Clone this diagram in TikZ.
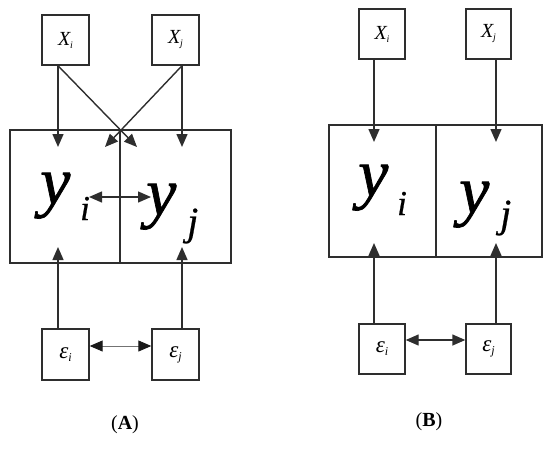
\documentclass[tikz,border=0pt]{standalone}
\usepackage{fontspec}
\setmainfont{Liberation Serif}
\usetikzlibrary{arrows.meta}
\definecolor{linec}{HTML}{2E2E2E}
\newcommand\smlab[2]{{\fontsize{20}{20}\selectfont\itshape #1\raisebox{-3pt}{\fontsize{10}{10}\selectfont #2}}}
\newcommand\eplab[2]{{\fontsize{23}{23}\selectfont\itshape #1\raisebox{-3pt}{\fontsize{12}{12}\selectfont #2}}}
\begin{document}
\begin{tikzpicture}[x=1pt,y=-1pt,
  box/.style={draw=linec, line width=1.4pt, inner sep=0pt, minimum width=47pt, minimum height=50pt},
  big/.style={draw=linec, line width=1.4pt, inner sep=0pt, minimum height=133pt},
  arr/.style={-{Triangle[length=13pt,width=11pt]}, line width=1.4pt, draw=linec},
  darr/.style={{Triangle[length=13pt,width=11pt]}-{Triangle[length=13pt,width=11pt]}, line width=1.4pt, draw=linec},
  thin darr/.style={{Triangle[length=13pt,width=11pt,color=black!90]}-{Triangle[length=13pt,width=11pt,color=black!90]}, line width=1pt, draw=black!55},
  bigy/.style={anchor=base west, inner sep=0pt, font=\fontsize{68}{68}\selectfont\itshape\addfontfeature{FakeBold=1}},
  subi/.style={anchor=base west, inner sep=0pt, font=\fontsize{35}{35}\selectfont\itshape\addfontfeature{FakeBold=0.6}},
  subj/.style={anchor=base west, inner sep=0pt, font=\fontsize{40}{40}\selectfont\itshape\addfontfeature{FakeBold=0.6}},
  captext/.style={inner sep=0pt, font=\fontsize{20}{20}\selectfont}
]
\useasboundingbox (0,0) rectangle (550,451);
% ---------------- Panel A ----------------
\node[box] (Axi) at (65.5,40) {\smlab{X}{i}};
\node[box] (Axj) at (175.5,40) {\smlab{X}{j}};
\node[big, minimum width=110pt] (Ayi) at (65,196.5) {};
\node[big, minimum width=111pt] (Ayj) at (175.5,196.5) {};
\node[box, minimum height=51pt] (Aei) at (65.5,354.5) {\eplab{ε}{i}};
\node[box, minimum height=51pt] (Aej) at (175.5,354.5) {\eplab{ε}{j}};
\node[bigy] (Ayit) at (40,204) {y};
\node[subi] (Ayis) at (80,220) {i};
\node[bigy] (Ayjt) at (146,215) {y};
\node[subj] (Ayjs) at (187,235) {j};
\coordinate (Ati) at (58,147);
\coordinate (Atj) at (182,147);
\coordinate (Acr1) at (137,147);
\coordinate (Acr2) at (105,147);
\coordinate (Abi) at (58,247);
\coordinate (Abj) at (182,247);
\coordinate (Ayl) at (89,197);
\coordinate (Ayr) at (151,197);
\draw[arr] ([xshift=-7.5pt]Axi.south) -- (Ati);
\draw[arr] ([xshift=6.5pt]Axj.south) -- (Atj);
\draw[arr] ([xshift=-7.5pt]Axi.south) -- (Acr1);
\draw[arr] ([xshift=6.5pt]Axj.south) -- (Acr2);
\draw[arr] ([xshift=-7.5pt]Aei.north) -- (Abi);
\draw[arr] ([xshift=6.5pt]Aej.north) -- (Abj);
\draw[darr] (Ayl) -- (Ayr);
\draw[thin darr] ([yshift=8.5pt]Aei.east) -- ([yshift=8.5pt]Aej.west);
\node[captext] (capA) at (125,425) {(\textbf{A})};
% ---------------- Panel B ----------------
\node[box, minimum width=46pt] (Bxi) at (382,34) {\smlab{X}{i}};
\node[box, minimum width=45pt] (Bxj) at (488.5,34) {\smlab{X}{j}};
\node[big, minimum width=107pt, minimum height=132pt] (Byi) at (382.5,191) {};
\node[big, minimum width=106pt, minimum height=132pt] (Byj) at (489,191) {};
\node[box, minimum width=46pt] (Bei) at (382,349) {\eplab{ε}{i}};
\node[box, minimum width=45pt] (Bej) at (488.5,349) {\eplab{ε}{j}};
\node[bigy] (Byit) at (358,196) {y};
\node[subi] (Byis) at (397,215) {i};
\node[bigy] (Byjt) at (459,213) {y};
\node[subj] (Byjs) at (500,227) {j};
\coordinate (Bti) at (374,142);
\coordinate (Btj) at (496,142);
\coordinate (Bbi) at (374,243);
\coordinate (Bbj) at (496,243);
\draw[arr] ([xshift=-8pt]Bxi.south) -- (Bti);
\draw[arr] ([xshift=7.5pt]Bxj.south) -- (Btj);
\draw[arr] ([xshift=-8pt]Bei.north) -- (Bbi);
\draw[arr] ([xshift=7.5pt]Bej.north) -- (Bbj);
\draw[darr] ([yshift=9pt]Bei.east) -- ([yshift=9pt]Bej.west);
\node[captext] (capB) at (429,422) {(\textbf{B})};
\end{tikzpicture}
\end{document}
